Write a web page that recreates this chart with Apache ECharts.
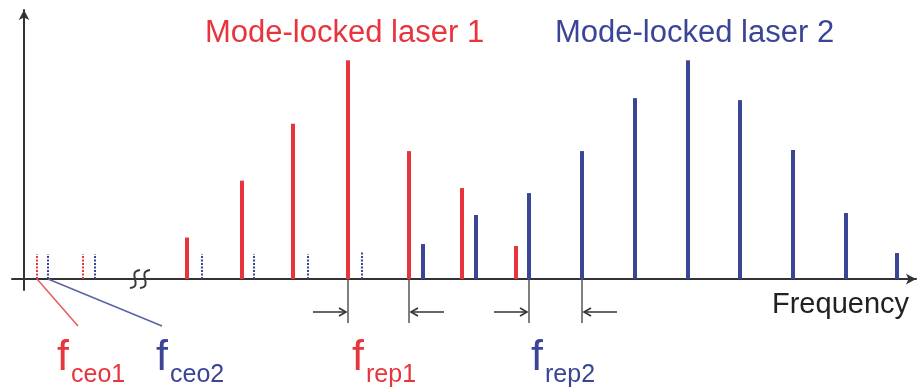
<!DOCTYPE html>
<html>
<head>
<meta charset="utf-8">
<script src="https://cdn.jsdelivr.net/npm/echarts@6/dist/echarts.min.js"></script>
<style>
  html, body { margin: 0; padding: 0; background: #fff; }
  #chart { width: 919px; height: 388px; }
</style>
</head>
<body>
<div id="chart"></div>
<script>
// Comb positions (arbitrary frequency units) and mode amplitudes (peak = 100)
const redModes  = [163, 218, 269, 324, 385, 438, 492];
const redAmps   = [19, 45, 71, 100, 58.5, 41.6, 15.1];
const blueModes = [399, 452, 505, 558, 611, 664, 716, 769, 822, 873];
const blueAmps  = [16, 29.3, 39.3, 58.5, 82.7, 100, 81.8, 59, 30.2, 11.9];

// Offset (ceo) tones, drawn dotted
const redCeoModes  = [13, 59];
const redCeoAmps   = [11.5, 11.5];
const blueCeoModes = [24, 71, 178, 230, 284, 338];
const blueCeoAmps  = [11.5, 11.5, 11.5, 11.5, 11.5, 12.3];

// Adjacent comb lines bracketing each repetition rate
const frep1Pair = [324, 385];
const frep2Pair = [505, 558];
const axisBreakAt = [111, 121];

const RED = '#e8343c';
const BLUE = '#3a4596';
const AXIS = '#333';

function combSeries(name, xs, ys, color, width, dashed) {
  return {
    name: name,
    type: 'custom',
    data: xs.map((x, i) => [x, ys[i]]),
    renderItem: function (params, api) {
      const p0 = api.coord([api.value(0), 0]);
      const p1 = api.coord([api.value(0), api.value(1)]);
      return {
        type: 'line',
        shape: { x1: p0[0], y1: p0[1], x2: p1[0], y2: p1[1] },
        style: {
          stroke: color,
          lineWidth: width,
          lineDash: dashed ? [2, 1.5] : null
        }
      };
    },
    silent: true,
    z: dashed ? 3 : 4
  };
}

const chart = echarts.init(document.getElementById('chart'));
chart.setOption({
  animation: false,
  backgroundColor: '#fff',
  grid: { left: 12, right: 3, top: 10, bottom: 98 },
  xAxis: {
    type: 'value', min: -12, max: 892,
    axisLine: { onZero: true, symbol: ['none', 'arrow'], symbolSize: [8, 10],
                lineStyle: { color: AXIS, width: 2 } },
    axisTick: { show: false }, axisLabel: { show: false }, splitLine: { show: false }
  },
  yAxis: {
    type: 'value', min: -5, max: 123,
    axisLine: { onZero: true, symbol: ['none', 'arrow'], symbolSize: [8, 10],
                lineStyle: { color: AXIS, width: 2 } },
    axisTick: { show: false }, axisLabel: { show: false }, splitLine: { show: false }
  },
  series: [
    combSeries('laser1', redModes, redAmps, RED, 4, false),
    combSeries('laser2', blueModes, blueAmps, BLUE, 4, false),
    combSeries('ceo1', redCeoModes, redCeoAmps, RED, 2, true),
    combSeries('ceo2', blueCeoModes, blueCeoAmps, BLUE, 2, true)
  ]
});

function px(x, y) { return chart.convertToPixel({ gridIndex: 0 }, [x, y]); }

const g = [];
const font = '"Liberation Sans", Arial, sans-serif';

function text(str, x, y, size, color) {
  g.push({ type: 'text', x: x, y: y, z: 20,
    style: { text: str, fill: color, font: size + 'px ' + font, textAlign: 'left', textVerticalAlign: 'top' } });
}

// Titles and axis name
text('Mode-locked laser 1', 205, 18, 31, RED);
text('Mode-locked laser 2', 555, 18, 31, BLUE);
text('Frequency', 772, 290, 29, '#222');

// Axis break squiggles
axisBreakAt.forEach(function (bx) {
  const c = px(bx, 0);
  g.push({ type: 'bezierCurve', z: 11,
    shape: { x1: c[0] + 5, y1: c[1] - 9, cpx1: c[0] - 9, cpy1: c[1] - 7,
             cpx2: c[0] + 9, cpy2: c[1] + 7, x2: c[0] - 5, y2: c[1] + 9 },
    style: { stroke: '#3a3a3a', lineWidth: 2, fill: null } });
});

// Leader lines from the first offset tones down to their labels
const r0 = px(redCeoModes[0], 0);
const b0 = px(blueCeoModes[0], 0);
g.push({ type: 'line', z: 5, shape: { x1: r0[0], y1: r0[1], x2: 78, y2: 326 },
         style: { stroke: '#e85a60', lineWidth: 1.5 } });
g.push({ type: 'line', z: 5, shape: { x1: b0[0], y1: b0[1], x2: 162, y2: 326 },
         style: { stroke: '#5a63a5', lineWidth: 1.5 } });

// Repetition-rate brackets: ticks below the axis with inward arrows
function arrow(xTip, dir, y) {
  const len = 33, head = 7;
  const xs = xTip - dir * len;
  g.push({ type: 'line', z: 5, shape: { x1: xs, y1: y, x2: xTip, y2: y },
           style: { stroke: '#333', lineWidth: 1.6 } });
  g.push({ type: 'polyline', z: 5,
           shape: { points: [[xTip - dir * head, y - 4], [xTip, y], [xTip - dir * head, y + 4]] },
           style: { stroke: '#333', lineWidth: 1.6, fill: null } });
}
[frep1Pair, frep2Pair].forEach(function (pair) {
  const a = px(pair[0], 0), b = px(pair[1], 0);
  [a, b].forEach(function (p) {
    g.push({ type: 'line', z: 5, shape: { x1: p[0], y1: p[1], x2: p[0], y2: p[1] + 44 },
             style: { stroke: '#555', lineWidth: 1.5 } });
  });
  arrow(a[0] - 2, 1, a[1] + 33);
  arrow(b[0] + 2, -1, b[1] + 33);
});

// Subscripted frequency labels
function fLabel(x, sub, color) {
  text('f', x, 337, 43, color);
  text(sub, x + 14, 363, 25, color);
}
fLabel(57, 'ceo1', RED);
fLabel(156, 'ceo2', BLUE);
fLabel(352, 'rep1', RED);
fLabel(531, 'rep2', BLUE);

chart.setOption({ graphic: g });
</script>
</body>
</html>
